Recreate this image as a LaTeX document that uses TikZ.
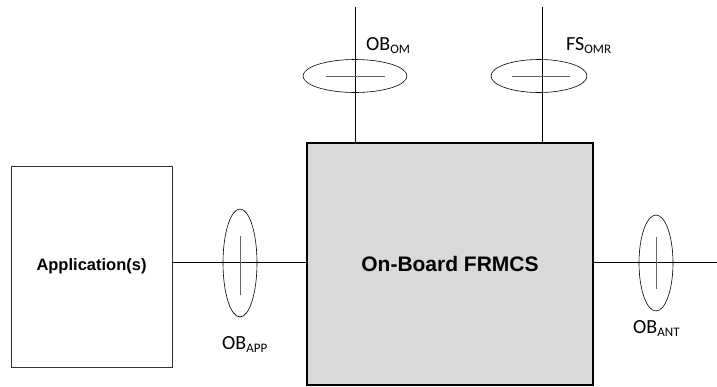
\documentclass[tikz,border=0pt]{standalone}
\usepackage{fontspec}
\setmainfont{Carlito}
\newfontfamily\arialfont{Liberation Sans}
\usetikzlibrary{positioning, shapes.geometric, calc}
\colorlet{boxGrey}{black!15}
\colorlet{tickGrey}{black!60}
\newcommand{\reflab}[2]{#1\raisebox{-3pt}{\fontsize{13}{13}\selectfont #2}}

\begin{document}
\begin{tikzpicture}[
  x=1pt, y=-1pt,
  font=\fontsize{20}{24}\selectfont,
  wire/.style={draw=black, line width=1pt},
  refpt/.style={draw=black, line width=0.6pt, ellipse, inner sep=0pt},
  tick/.style={draw=tickGrey, line width=1pt},
  lab/.style={anchor=base west, inner sep=0pt},
]
\useasboundingbox (0,0) rectangle (717,386);

% ── blocks ───────────────────────────────────────────────────────────────────
\node[draw=black!80, line width=0.8pt, minimum width=161pt, minimum height=201pt,
      font=\arialfont\bfseries\fontsize{16.5}{19}\selectfont]
  (app) at (91.5,266.5) {Application(s)};
\node[draw=black, line width=2.4pt, fill=boxGrey, minimum width=286pt, minimum height=242pt,
      font=\arialfont\bfseries\fontsize{21}{25}\selectfont]
  (obf) at (450,264) {On-Board FRMCS};

% ── connectors ───────────────────────────────────────────────────────────────
\coordinate (omtop)  at (355,7);
\coordinate (omrtop) at (542,7);
\coordinate (antend) at (717,262);
\coordinate (appout) at (app.east |- antend);
\draw[wire] (appout) -- (appout -| obf.west);
\draw[wire] (antend) -- (antend -| obf.east);
\draw[wire] (omtop)  -- (omtop |- obf.north);
\draw[wire] (omrtop) -- (omrtop |- obf.north);

% ── reference points ─────────────────────────────────────────────────────────
\node[refpt, minimum width=104pt, minimum height=33pt] (om)  at (355,76) {};
\node[refpt, minimum width=96pt,  minimum height=33pt] (omr) at (539,76) {};
\node[refpt, minimum width=34pt,  minimum height=108pt] (app-ref) at (240,263) {};
\node[refpt, minimum width=34pt,  minimum height=96pt]  (ant) at (656,263) {};
\draw[tick] ($(om.center)+(-29,0)$)  -- ($(om.center)+(30,0)$);
\draw[tick] ($(omr.center)+(-27,0)$) -- ($(omr.center)+(31,0)$);
\draw[tick] ($(app-ref.center)+(0,-27)$) -- ($(app-ref.center)+(0,32)$);
\draw[tick] ($(ant.center)+(0,-26)$) -- ($(ant.center)+(0,26)$);

\node[lab] (om-lab)  at (366,50)  {\reflab{OB}{OM}};
\node[lab] (omr-lab) at (566,50)  {\reflab{FS}{OMR}};
\node[lab] (app-lab) at (222,349) {\reflab{OB}{APP}};
\node[lab] (ant-lab) at (633,333) {\reflab{OB}{ANT}};

\end{tikzpicture}
\end{document}
